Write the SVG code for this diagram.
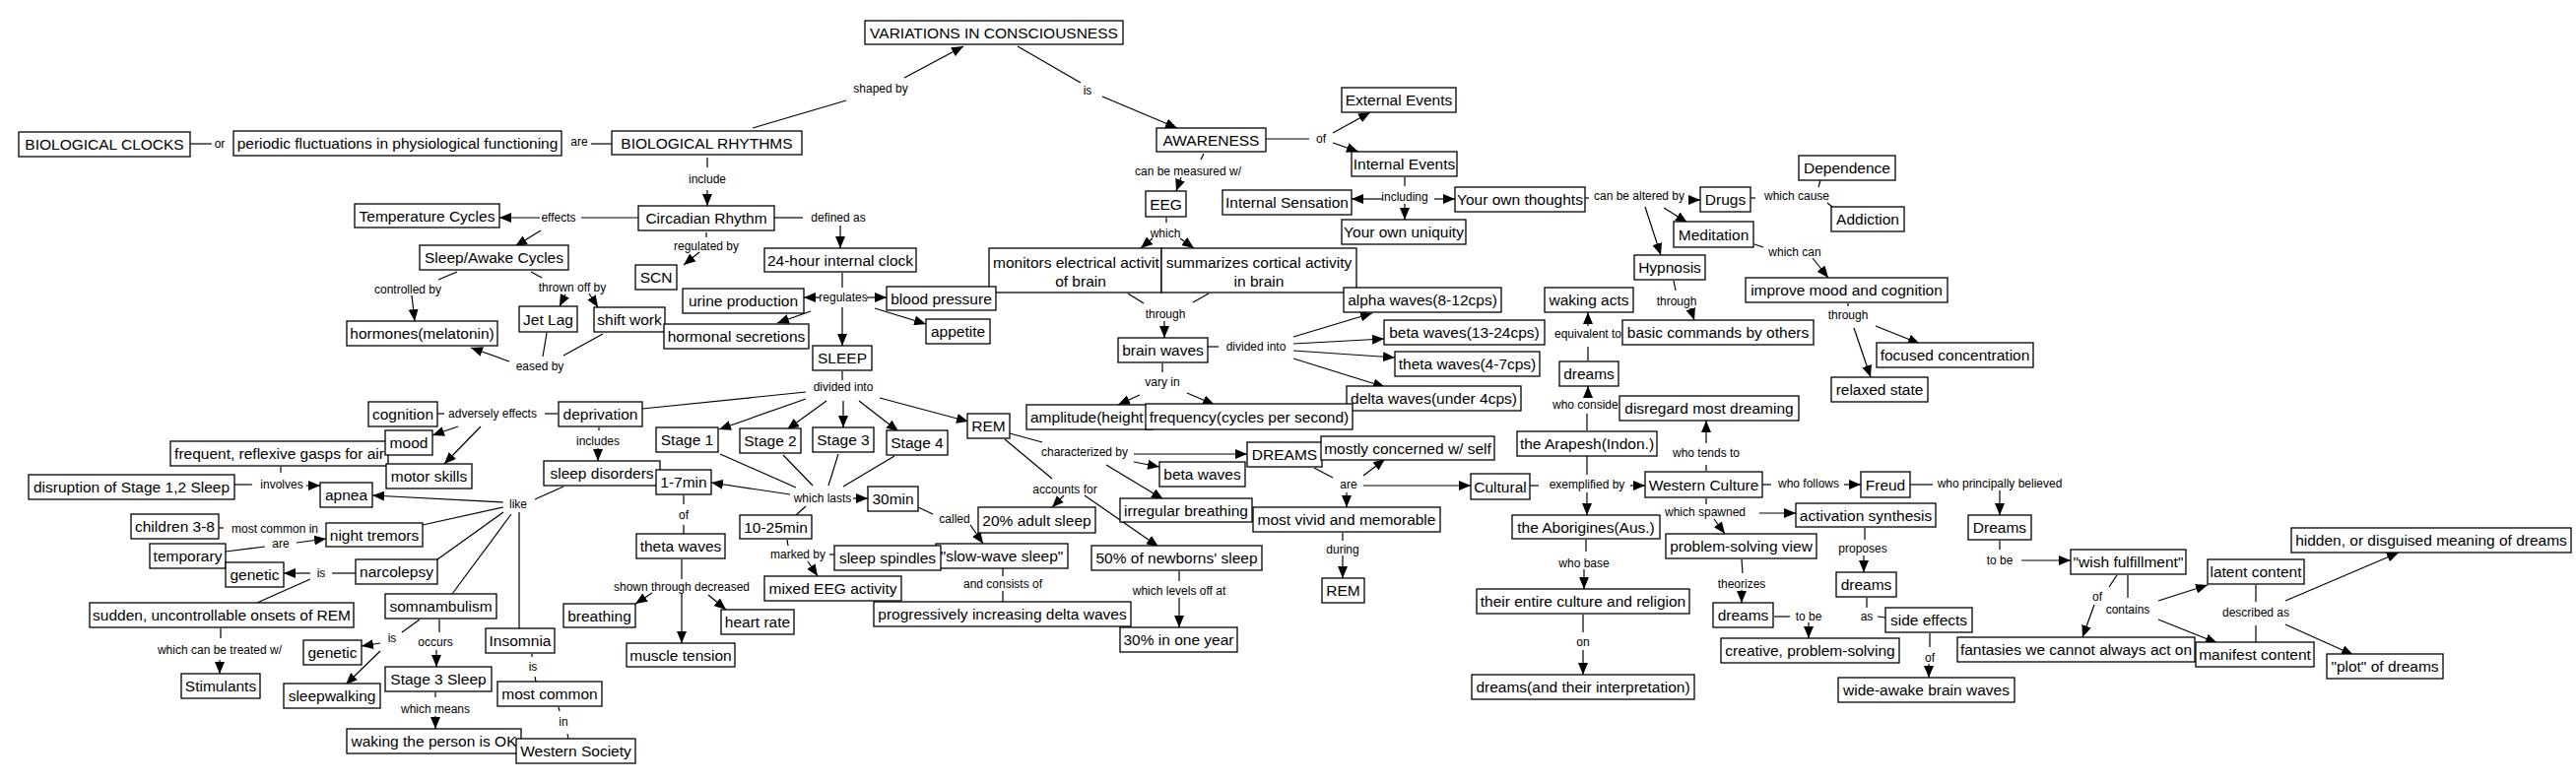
<svg xmlns="http://www.w3.org/2000/svg" width="2615" height="795" viewBox="0 0 2615 795">
<style>
.n rect{fill:#fff;stroke:#000;stroke-width:1.3}
.n text{font-family:"Liberation Sans",Arial,sans-serif;font-size:15.5px;text-anchor:middle;fill:#000}
.n text.s{text-anchor:start}
#connectors path{stroke:#000;stroke-width:1.2;fill:none}
#connectors path.a{marker-end:url(#ah)}
#connectors text{font-family:"Liberation Sans",Arial,sans-serif;font-size:12px;text-anchor:middle;fill:#000}
#connectors text.s{text-anchor:start}
</style>
<defs>
<marker id="ah" markerUnits="userSpaceOnUse" markerWidth="12" markerHeight="10" refX="12" refY="5" orient="auto"><path d="M0,0L12,5L0,10z" fill="#000"/></marker>
</defs>
<rect width="2615" height="795" fill="#fff"/>
<g id="connectors">
<path d="M764,130L859,102"/><path class="a" d="M918,79L978,47"/>
<path d="M1033,47L1097,84"/><path class="a" d="M1119,98L1195,130"/>
<path d="M193,146L215,146"/><path d="M600,146L621,146"/>
<path d="M718,160L718,170"/><path class="a" d="M718,193L718,209"/>
<path d="M786,221L815,221"/><path class="a" d="M853,229L853,252"/>
<path d="M717,236L717,241"/><path class="a" d="M710,256L694,269"/>
<path d="M648,221L590,221"/><path class="a" d="M548,221L507,221"/><path class="a" d="M549,234L523,250"/>
<path d="M464,276L445,284"/><path class="a" d="M418,300L421,326"/>
<path d="M539,276L550,282"/><path class="a" d="M574,299L568,311"/><path class="a" d="M598,298L607,312"/>
<path d="M555,338L551,362"/><path d="M612,339L572,361"/><path class="a" d="M517,367L478,353"/>
<path d="M855,277L855,292"/><path class="a" d="M832,302L816,302"/><path class="a" d="M880,302L900,302"/><path class="a" d="M823,316L789,328"/><path class="a" d="M888,313L940,329"/><path class="a" d="M855,312L855,351"/>
<path d="M855,377L855,386"/><path d="M818,398L652,415"/><path class="a" d="M818,405L730,436"/><path class="a" d="M839,407L799,436"/><path class="a" d="M856,407L856,434"/><path class="a" d="M872,407L912,438"/><path class="a" d="M893,404L983,428"/>
<path d="M731,461L808,495"/><path d="M795,462L825,493"/><path d="M851,461L841,493"/><path d="M908,463L856,494"/><path class="a" d="M802,502L722,490"/><path class="a" d="M866,506L881,506"/><path d="M818,514L808,523"/>
<path d="M694,503L694,512"/><path d="M694,533L694,542"/>
<path d="M692,568L692,588"/><path class="a" d="M662,602L645,613"/><path class="a" d="M719,604L737,619"/><path class="a" d="M692,602L692,653"/>
<path d="M799,548L800,554"/><path class="a" d="M820,570L830,585"/><path d="M842,563L847,563"/>
<path d="M932,515L947,522"/><path class="a" d="M985,533L998,552"/>
<path d="M1018,577L1018,585"/><path d="M1018,600L1018,611"/>
<path d="M1020,446L1068,486"/><path class="a" d="M1080,503L1068,515"/><path class="a" d="M1101,503L1176,555"/>
<path d="M1197,580L1197,590"/><path class="a" d="M1197,607L1197,637"/>
<path d="M1025,440L1058,449"/><path class="a" d="M1151,461L1266,461"/><path class="a" d="M1151,469L1177,474"/><path class="a" d="M1123,472L1181,507"/>
<path d="M1334,475L1353,485"/><path class="a" d="M1384,483L1406,466"/><path class="a" d="M1384,493L1493,493"/><path class="a" d="M1367,500L1367,515"/>
<path d="M1363,541L1363,549"/><path class="a" d="M1363,564L1363,587"/>
<path d="M1553,493L1562,493"/><path d="M1611,482L1611,463"/><path class="a" d="M1611,500L1611,523"/><path class="a" d="M1655,493L1670,493"/>
<path d="M1611,437L1611,420"/><path class="a" d="M1612,404L1612,392"/>
<path d="M1612,366L1612,352"/><path class="a" d="M1612,331L1612,317"/>
<path d="M1732,478L1732,472"/><path class="a" d="M1732,450L1732,427"/>
<path d="M1789,492L1798,492"/><path class="a" d="M1872,492L1889,492"/>
<path d="M1939,492L1962,492"/><path class="a" d="M2030,498L2030,523"/>
<path d="M2030,549L2030,558"/><path class="a" d="M2052,569L2102,569"/>
<path d="M2149,584L2141,596"/><path class="a" d="M2126,614L2114,647"/>
<path d="M2160,584L2160,607"/><path class="a" d="M2191,610L2241,594"/><path class="a" d="M2191,629L2251,653"/>
<path d="M2290,594L2290,611"/><path d="M2290,635L2290,652"/><path class="a" d="M2320,610L2435,561"/><path class="a" d="M2320,634L2389,665"/>
<path d="M1732,506L1732,512"/><path class="a" d="M1786,521L1823,521"/><path class="a" d="M1740,527L1751,542"/>
<path d="M1893,536L1893,548"/><path class="a" d="M1892,564L1892,581"/>
<path d="M1895,607L1895,617"/><path d="M1906,626L1914,627"/>
<path d="M1959,643L1959,657"/><path class="a" d="M1958,674L1958,688"/>
<path d="M1768,568L1769,582"/><path class="a" d="M1768,599L1768,612"/>
<path d="M1801,626L1817,626"/><path class="a" d="M1836,632L1836,648"/>
<path d="M1610,548L1610,560"/><path class="a" d="M1608,578L1608,598"/>
<path d="M1607,624L1607,642"/><path class="a" d="M1607,660L1607,685"/>
<path d="M1426,180L1426,189"/><path class="a" d="M1403,202L1372,202"/><path class="a" d="M1426,207L1426,223"/><path class="a" d="M1456,202L1477,202"/>
<path d="M1285,141L1329,141"/><path class="a" d="M1353,135L1391,114"/><path class="a" d="M1353,145L1379,154"/>
<path d="M1222,156L1219,162"/><path class="a" d="M1199,180L1194,194"/>
<path d="M1184,221L1184,226"/><path class="a" d="M1170,242L1158,252"/><path class="a" d="M1198,242L1212,252"/>
<path d="M1145,298L1161,308"/><path d="M1227,298L1211,307"/><path class="a" d="M1182,326L1182,343"/>
<path d="M1180,369L1180,378"/><path class="a" d="M1157,401L1135,411"/><path class="a" d="M1205,399L1233,411"/>
<path d="M1226,352L1237,352"/><path class="a" d="M1313,342L1393,318"/><path class="a" d="M1313,349L1405,344"/><path class="a" d="M1313,356L1416,363"/><path class="a" d="M1313,364L1406,393"/>
<path d="M1609,201L1613,201"/><path class="a" d="M1714,203L1726,203"/><path class="a" d="M1689,211L1713,226"/><path class="a" d="M1670,210L1686,259"/>
<path d="M1777,201L1782,201"/><path d="M1846,190L1848,183"/><path d="M1855,206L1860,210"/>
<path d="M1781,248L1790,251"/><path class="a" d="M1840,262L1856,282"/>
<path d="M1876,308L1876,311"/><path class="a" d="M1904,331L1949,349"/><path class="a" d="M1882,333L1899,383"/>
<path d="M1699,285L1701,295"/><path class="a" d="M1716,313L1720,325"/>
<path d="M566,420L553,420"/><path d="M444,420L451,420"/><path class="a" d="M465,433L439,442"/><path class="a" d="M488,433L451,471"/>
<path d="M608,434L608,437"/><path class="a" d="M607,455L607,468"/>
<path d="M572,494L543,507"/><path class="a" d="M511,510L378,503"/><path d="M511,515L429,533"/><path d="M511,520L444,568"/><path d="M519,522L459,603"/><path d="M527,520L527,638"/>
<path d="M238,492L256,492"/><path class="a" d="M311,493L325,493"/><path d="M285,474L285,480"/>
<path d="M222,536L227,536"/>
<path d="M229,560L269,555"/><path class="a" d="M301,551L331,547"/>
<path d="M361,582L337,582"/><path class="a" d="M315,582L288,582"/><path d="M315,588L261,612"/>
<path d="M224,638L224,648"/><path class="a" d="M223,670L223,684"/>
<path d="M426,629L408,642"/><path class="a" d="M386,653L367,656"/><path class="a" d="M386,661L351,695"/>
<path d="M446,629L446,642"/><path class="a" d="M443,660L443,677"/>
<path d="M442,703L442,708"/><path class="a" d="M442,727L442,740"/>
<path d="M540,664L540,667"/><path d="M543,687L544,692"/>
<path d="M567,718L568,722"/><path d="M576,745L577,750"/>
<text x="894" y="94">shaped by</text>
<text x="1104" y="96">is</text>
<text x="223" y="150">or</text>
<text x="588" y="148">are</text>
<text x="718" y="186">include</text>
<text x="851" y="225">defined as</text>
<text x="717" y="254">regulated by</text>
<text x="567" y="225">effects</text>
<text x="414" y="298">controlled by</text>
<text x="581" y="296">thrown off by</text>
<text x="548" y="376">eased by</text>
<text x="856" y="306">regulates</text>
<text x="856" y="397">divided into</text>
<text x="835" y="510">which lasts</text>
<text x="694" y="527">of</text>
<text x="692" y="600">shown through decreased</text>
<text x="810" y="567">marked by</text>
<text x="969" y="531">called</text>
<text x="1018" y="597">and consists of</text>
<text x="1081" y="501">accounts for</text>
<text x="1197" y="604">which levels off at</text>
<text x="1101" y="463">characterized by</text>
<text x="1369" y="496">are</text>
<text x="1363" y="562">during</text>
<text x="1611" y="496">exemplified by</text>
<text class="s" x="1576" y="415">who conside</text>
<text x="1612" y="343">equivalent to</text>
<text x="1732" y="464">who tends to</text>
<text x="1836" y="495">who follows</text>
<text x="2030" y="495">who principally believed</text>
<text x="2030" y="573">to be</text>
<text x="2129" y="610">of</text>
<text x="2160" y="623">contains</text>
<text x="2290" y="626">described as</text>
<text x="1731" y="524">which spawned</text>
<text x="1891" y="561">proposes</text>
<text x="1895" y="630">as</text>
<text x="1959" y="672">of</text>
<text x="1768" y="597">theorizes</text>
<text x="1836" y="630">to be</text>
<text x="1608" y="576">who base</text>
<text x="1607" y="656">on</text>
<text x="1426" y="204">including</text>
<text x="1341" y="145">of</text>
<text x="1206" y="178">can be measured w/</text>
<text x="1183" y="241">which</text>
<text x="1183" y="323">through</text>
<text x="1180" y="392">vary in</text>
<text x="1275" y="356">divided into</text>
<text x="1664" y="203">can be altered by</text>
<text x="1824" y="203">which cause</text>
<text x="1822" y="260">which can</text>
<text x="1876" y="324">through</text>
<text x="1702" y="310">through</text>
<text x="500" y="424">adversely effects</text>
<text x="607" y="452">includes</text>
<text x="526" y="516">like</text>
<text x="286" y="496">involves</text>
<text x="279" y="541">most common in</text>
<text x="285" y="556">are</text>
<text x="326" y="586">is</text>
<text x="223" y="664">which can be treated w/</text>
<text x="398" y="652">is</text>
<text x="442" y="656">occurs</text>
<text x="442" y="724">which means</text>
<text x="541" y="681">is</text>
<text x="572" y="737">in</text>
</g>
<g id="n-variations" class="n"><rect x="878" y="21" width="262" height="24"/><text x="1009" y="38.5">VARIATIONS IN CONSCIOUSNESS</text></g>
<g id="n-bio-rhythms" class="n"><rect x="621" y="133" width="193" height="24"/><text x="717.5" y="150.5">BIOLOGICAL RHYTHMS</text></g>
<g id="n-bio-clocks" class="n"><rect x="19" y="134" width="174" height="25"/><text x="106" y="152">BIOLOGICAL CLOCKS</text></g>
<g id="n-periodic" class="n"><rect x="237" y="133" width="333" height="25"/><text x="403.5" y="151">periodic fluctuations in physiological functioning</text></g>
<g id="n-awareness" class="n"><rect x="1174" y="130" width="111" height="24"/><text x="1229.5" y="147.5">AWARENESS</text></g>
<g id="n-external" class="n"><rect x="1362" y="89" width="116" height="25"/><text x="1420" y="107">External Events</text></g>
<g id="n-internal-events" class="n"><rect x="1372" y="154" width="107" height="25"/><text x="1425.5" y="172">Internal Events</text></g>
<g id="n-internal-sensation" class="n"><rect x="1241" y="193" width="131" height="25"/><text x="1306.5" y="211">Internal Sensation</text></g>
<g id="n-uniquity" class="n"><rect x="1362" y="223" width="126" height="25"/><text x="1425" y="241">Your own uniquity</text></g>
<g id="n-thoughts" class="n"><rect x="1477" y="190" width="132" height="25"/><text x="1543" y="208">Your own thoughts</text></g>
<g id="n-drugs" class="n"><rect x="1726" y="190" width="51" height="25"/><text x="1751.5" y="208">Drugs</text></g>
<g id="n-dependence" class="n"><rect x="1826" y="158" width="98" height="25"/><text x="1875" y="176">Dependence</text></g>
<g id="n-addiction" class="n"><rect x="1859" y="210" width="74" height="25"/><text x="1896" y="228">Addiction</text></g>
<g id="n-meditation" class="n"><rect x="1699" y="225" width="81" height="26"/><text x="1739.5" y="243.5">Meditation</text></g>
<g id="n-hypnosis" class="n"><rect x="1659" y="259" width="72" height="25"/><text x="1695" y="277">Hypnosis</text></g>
<g id="n-improve" class="n"><rect x="1772" y="282" width="205" height="25"/><text x="1874.5" y="300">improve mood and cognition</text></g>
<g id="n-focused" class="n"><rect x="1905" y="348" width="159" height="25"/><text x="1984.5" y="366">focused concentration</text></g>
<g id="n-relaxed" class="n"><rect x="1859" y="383" width="98" height="25"/><text x="1908" y="401">relaxed state</text></g>
<g id="n-basic" class="n"><rect x="1647" y="325" width="194" height="25"/><text x="1744" y="343">basic commands by others</text></g>
<g id="n-waking-acts" class="n"><rect x="1568" y="292" width="90" height="25"/><text x="1613" y="310">waking acts</text></g>
<g id="n-dreams-arapesh" class="n"><rect x="1583" y="367" width="60" height="25"/><text x="1613" y="385">dreams</text></g>
<g id="n-disregard" class="n"><rect x="1644" y="402" width="182" height="25"/><text x="1735" y="420">disregard most dreaming</text></g>
<g id="n-arapesh" class="n"><rect x="1540" y="438" width="142" height="25"/><text x="1611" y="456">the Arapesh(Indon.)</text></g>
<g id="n-cultural" class="n"><rect x="1493" y="481" width="60" height="26"/><text x="1523" y="499.5">Cultural</text></g>
<g id="n-western-culture" class="n"><rect x="1670" y="479" width="119" height="26"/><text x="1729.5" y="497.5">Western Culture</text></g>
<g id="n-freud" class="n"><rect x="1889" y="479" width="50" height="26"/><text x="1914" y="497.5">Freud</text></g>
<g id="n-dreams-freud" class="n"><rect x="1998" y="523" width="64" height="25"/><text x="2030" y="541">Dreams</text></g>
<g id="n-wish" class="n"><rect x="2102" y="558" width="117" height="25"/><text x="2160.5" y="576">"wish fulfillment"</text></g>
<g id="n-latent" class="n"><rect x="2241" y="568" width="98" height="25"/><text x="2290" y="586">latent content</text></g>
<g id="n-hidden" class="n"><rect x="2326" y="536" width="284" height="25"/><text x="2468" y="554">hidden, or disguised meaning of dreams</text></g>
<g id="n-fantasies" class="n"><rect x="1987" y="647" width="241" height="25"/><text x="2107.5" y="665">fantasies we cannot always act on</text></g>
<g id="n-manifest" class="n"><rect x="2229" y="652" width="120" height="25"/><text x="2289" y="670">manifest content</text></g>
<g id="n-plot" class="n"><rect x="2362" y="664" width="118" height="25"/><text x="2421" y="682">"plot" of dreams</text></g>
<g id="n-activation" class="n"><rect x="1823" y="511" width="142" height="24"/><text x="1894" y="528.5">activation synthesis</text></g>
<g id="n-psv" class="n"><rect x="1691" y="542" width="153" height="25"/><text x="1767.5" y="560">problem-solving view</text></g>
<g id="n-dreams-psv" class="n"><rect x="1739" y="612" width="61" height="25"/><text x="1769.5" y="630">dreams</text></g>
<g id="n-creative" class="n"><rect x="1747" y="648" width="181" height="25"/><text x="1837.5" y="666">creative, problem-solving</text></g>
<g id="n-dreams-as" class="n"><rect x="1864" y="581" width="61" height="25"/><text x="1894.5" y="599">dreams</text></g>
<g id="n-side-effects" class="n"><rect x="1914" y="617" width="88" height="25"/><text x="1958" y="635">side effects</text></g>
<g id="n-wide-awake" class="n"><rect x="1866" y="688" width="179" height="25"/><text x="1955.5" y="706">wide-awake brain waves</text></g>
<g id="n-aborigines" class="n"><rect x="1535" y="523" width="150" height="24"/><text x="1610" y="540.5">the Aborigines(Aus.)</text></g>
<g id="n-entire-culture" class="n"><rect x="1499" y="598" width="216" height="25"/><text x="1607" y="616">their entire culture and religion</text></g>
<g id="n-dreams-interp" class="n"><rect x="1494" y="685" width="226" height="25"/><text x="1607" y="703">dreams(and their interpretation)</text></g>
<g id="n-dreams-main" class="n"><rect x="1266" y="449" width="76" height="25"/><text x="1304" y="467">DREAMS</text></g>
<g id="n-mostly" class="n"><rect x="1341" y="443" width="176" height="24"/><text x="1429" y="460.5">mostly concerned w/ self</text></g>
<g id="n-vivid" class="n"><rect x="1272" y="515" width="190" height="25"/><text x="1367" y="533">most vivid and memorable</text></g>
<g id="n-rem-2" class="n"><rect x="1342" y="587" width="43" height="25"/><text x="1363.5" y="605">REM</text></g>
<g id="n-monitors" class="n"><rect x="1004" y="252" width="175" height="45"/><text class="s" x="1008" y="272">monitors electrical activit</text><text x="1097" y="291">of brain</text></g>
<g id="n-summarizes" class="n"><rect x="1179" y="252" width="198" height="45"/><text x="1278" y="272">summarizes cortical activity</text><text x="1278" y="291">in brain</text></g>
<g id="n-alpha" class="n"><rect x="1364" y="292" width="160" height="25"/><text x="1444" y="310">alpha waves(8-12cps)</text></g>
<g id="n-beta-cps" class="n"><rect x="1405" y="325" width="163" height="25"/><text x="1486.5" y="343">beta waves(13-24cps)</text></g>
<g id="n-theta-cps" class="n"><rect x="1416" y="357" width="147" height="25"/><text x="1489.5" y="375">theta waves(4-7cps)</text></g>
<g id="n-delta" class="n"><rect x="1367" y="392" width="177" height="25"/><text x="1455.5" y="410">delta waves(under 4cps)</text></g>
<g id="n-amplitude" class="n"><rect x="1042" y="411" width="128" height="25"/><text class="s" x="1046" y="429">amplitude(height</text></g>
<g id="n-frequency" class="n"><rect x="1163" y="410" width="210" height="26"/><text x="1268" y="428.5">frequency(cycles per second)</text></g>
<g id="n-brain-waves" class="n"><rect x="1135" y="343" width="91" height="25"/><text x="1180.5" y="361">brain waves</text></g>
<g id="n-eeg" class="n"><rect x="1163" y="194" width="41" height="26"/><text x="1183.5" y="212.5">EEG</text></g>
<g id="n-circadian" class="n"><rect x="648" y="209" width="138" height="25"/><text x="717" y="227">Circadian Rhythm</text></g>
<g id="n-temperature" class="n"><rect x="360" y="207" width="147" height="24"/><text x="433.5" y="224.5">Temperature Cycles</text></g>
<g id="n-sleep-awake" class="n"><rect x="426" y="249" width="151" height="25"/><text x="501.5" y="267">Sleep/Awake Cycles</text></g>
<g id="n-hormones" class="n"><rect x="352" y="326" width="153" height="25"/><text x="428.5" y="344">hormones(melatonin)</text></g>
<g id="n-jet-lag" class="n"><rect x="527" y="311" width="59" height="26"/><text x="556.5" y="329.5">Jet Lag</text></g>
<g id="n-shift-work" class="n"><rect x="603" y="312" width="72" height="25"/><text x="639" y="330">shift work</text></g>
<g id="n-scn" class="n"><rect x="645" y="269" width="42" height="25"/><text x="666" y="287">SCN</text></g>
<g id="n-clock24" class="n"><rect x="776" y="252" width="154" height="24"/><text x="853" y="269.5">24-hour internal clock</text></g>
<g id="n-urine" class="n"><rect x="693" y="293" width="123" height="25"/><text x="754.5" y="311">urine production</text></g>
<g id="n-blood" class="n"><rect x="900" y="291" width="111" height="24"/><text x="955.5" y="308.5">blood pressure</text></g>
<g id="n-appetite" class="n"><rect x="940" y="324" width="65" height="25"/><text x="972.5" y="342">appetite</text></g>
<g id="n-hormonal" class="n"><rect x="674" y="329" width="147" height="25"/><text x="747.5" y="347">hormonal secretions</text></g>
<g id="n-sleep" class="n"><rect x="825" y="351" width="60" height="25"/><text x="855" y="369">SLEEP</text></g>
<g id="n-deprivation" class="n"><rect x="567" y="408" width="85" height="25"/><text x="609.5" y="426">deprivation</text></g>
<g id="n-cognition" class="n"><rect x="374" y="408" width="70" height="25"/><text x="409" y="426">cognition</text></g>
<g id="n-gasps" class="n"><rect x="173" y="448" width="221" height="25"/><text x="283.5" y="466">frequent, reflexive gasps for air</text></g>
<g id="n-mood" class="n"><rect x="391" y="437" width="48" height="25"/><text x="415" y="455">mood</text></g>
<g id="n-motor" class="n"><rect x="392" y="471" width="87" height="25"/><text x="435.5" y="489">motor skills</text></g>
<g id="n-sleep-disorders" class="n"><rect x="552" y="468" width="118" height="25"/><text x="611" y="486">sleep disorders</text></g>
<g id="n-apnea" class="n"><rect x="325" y="490" width="53" height="25"/><text x="351.5" y="508">apnea</text></g>
<g id="n-disruption" class="n"><rect x="29" y="482" width="209" height="25"/><text x="133.5" y="500">disruption of Stage 1,2 Sleep</text></g>
<g id="n-stage1" class="n"><rect x="666" y="434" width="63" height="25"/><text x="697.5" y="452">Stage 1</text></g>
<g id="n-stage2" class="n"><rect x="751" y="435" width="62" height="25"/><text x="782" y="453">Stage 2</text></g>
<g id="n-stage3" class="n"><rect x="825" y="434" width="62" height="25"/><text x="856" y="452">Stage 3</text></g>
<g id="n-stage4" class="n"><rect x="900" y="437" width="62" height="25"/><text x="931" y="455">Stage 4</text></g>
<g id="n-rem" class="n"><rect x="982" y="420" width="43" height="25"/><text x="1003.5" y="438">REM</text></g>
<g id="n-min17" class="n"><rect x="666" y="477" width="56" height="25"/><text x="694" y="495">1-7min</text></g>
<g id="n-min30" class="n"><rect x="881" y="494" width="51" height="25"/><text x="906.5" y="512">30min</text></g>
<g id="n-min1025" class="n"><rect x="751" y="523" width="73" height="24"/><text x="787.5" y="540.5">10-25min</text></g>
<g id="n-theta-waves" class="n"><rect x="646" y="542" width="90" height="25"/><text x="691" y="560">theta waves</text></g>
<g id="n-breathing" class="n"><rect x="572" y="613" width="73" height="24"/><text x="608.5" y="630.5">breathing</text></g>
<g id="n-heart-rate" class="n"><rect x="732" y="619" width="74" height="25"/><text x="769" y="637">heart rate</text></g>
<g id="n-muscle" class="n"><rect x="636" y="653" width="110" height="24"/><text x="691" y="670.5">muscle tension</text></g>
<g id="n-slow-wave" class="n"><rect x="950" y="552" width="134" height="25"/><text x="1017" y="570">"slow-wave sleep"</text></g>
<g id="n-spindles" class="n"><rect x="847" y="554" width="108" height="25"/><text x="901" y="572">sleep spindles</text></g>
<g id="n-mixed" class="n"><rect x="776" y="585" width="139" height="25"/><text x="845.5" y="603">mixed EEG activity</text></g>
<g id="n-delta-prog" class="n"><rect x="887" y="611" width="261" height="25"/><text x="1017.5" y="629">progressively increasing delta waves</text></g>
<g id="n-adult20" class="n"><rect x="993" y="515" width="119" height="26"/><text x="1052.5" y="533.5">20% adult sleep</text></g>
<g id="n-newborns" class="n"><rect x="1108" y="554" width="173" height="25"/><text x="1194.5" y="572">50% of newborns' sleep</text></g>
<g id="n-year30" class="n"><rect x="1137" y="637" width="119" height="25"/><text x="1196.5" y="655">30% in one year</text></g>
<g id="n-beta-rem" class="n"><rect x="1177" y="469" width="87" height="25"/><text x="1220.5" y="487">beta waves</text></g>
<g id="n-irregular" class="n"><rect x="1137" y="506" width="134" height="24"/><text x="1204" y="523.5">irregular breathing</text></g>
<g id="n-children" class="n"><rect x="133" y="522" width="89" height="25"/><text x="177.5" y="540">children 3-8</text></g>
<g id="n-tremors" class="n"><rect x="331" y="531" width="98" height="24"/><text x="380" y="548.5">night tremors</text></g>
<g id="n-temporary" class="n"><rect x="152" y="552" width="77" height="25"/><text x="190.5" y="570">temporary</text></g>
<g id="n-genetic1" class="n"><rect x="229" y="571" width="59" height="25"/><text x="258.5" y="589">genetic</text></g>
<g id="n-narcolepsy" class="n"><rect x="361" y="568" width="83" height="25"/><text x="402.5" y="586">narcolepsy</text></g>
<g id="n-sudden" class="n"><rect x="91" y="612" width="268" height="25"/><text x="225" y="630">sudden, uncontrollable onsets of REM</text></g>
<g id="n-stimulants" class="n"><rect x="184" y="684" width="80" height="25"/><text x="224" y="702">Stimulants</text></g>
<g id="n-somnambulism" class="n"><rect x="391" y="603" width="113" height="25"/><text x="447.5" y="621">somnambulism</text></g>
<g id="n-genetic2" class="n"><rect x="308" y="650" width="59" height="25"/><text x="337.5" y="668">genetic</text></g>
<g id="n-sleepwalking" class="n"><rect x="288" y="694" width="98" height="25"/><text x="337" y="712">sleepwalking</text></g>
<g id="n-stage3sleep" class="n"><rect x="391" y="677" width="108" height="25"/><text x="445" y="695">Stage 3 Sleep</text></g>
<g id="n-waking-ok" class="n"><rect x="352" y="740" width="177" height="25"/><text x="440.5" y="758">waking the person is OK</text></g>
<g id="n-insomnia" class="n"><rect x="493" y="638" width="70" height="25"/><text x="528" y="656">Insomnia</text></g>
<g id="n-most-common" class="n"><rect x="505" y="692" width="106" height="25"/><text x="558" y="710">most common</text></g>
<g id="n-western-society" class="n"><rect x="524" y="750" width="121" height="25"/><text x="584.5" y="768">Western Society</text></g>
</svg>
